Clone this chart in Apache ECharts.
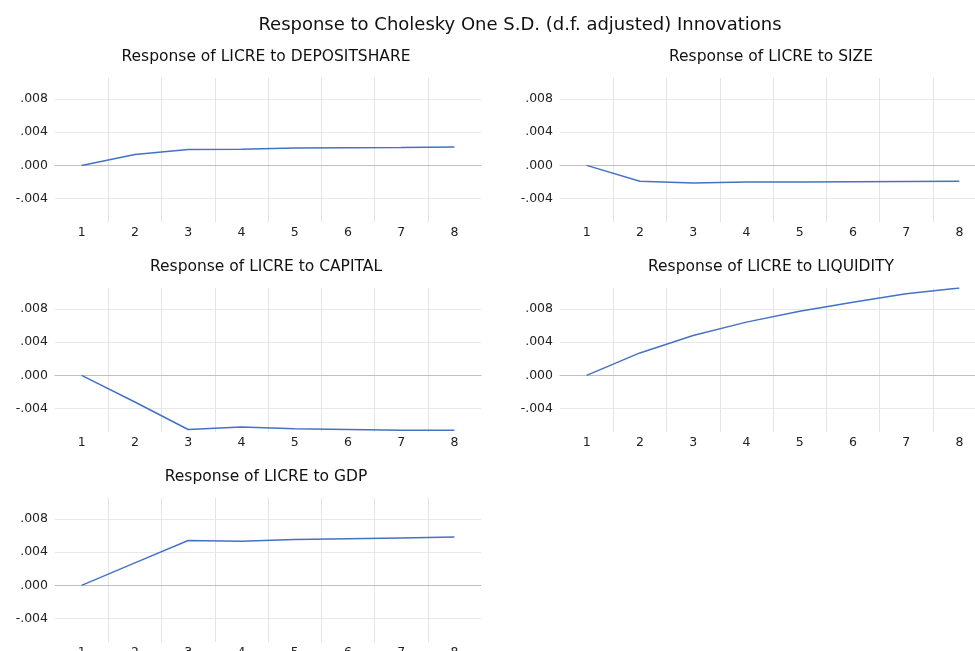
<!DOCTYPE html>
<html><head><meta charset="utf-8">
<script src="https://cdn.jsdelivr.net/npm/echarts@6/dist/echarts.min.js"></script>
<style>html,body{margin:0;padding:0;background:#fff}#c{width:975px;height:651px}</style>
</head><body><div id="c"></div>
<script>
var periods = ['1','2','3','4','5','6','7','8'];
var yTicks = [-0.004, 0, 0.004, 0.008];
var mainTitle = 'Response to Cholesky One S.D. (d.f. adjusted) Innovations';
var panelTitles = ['Response of LICRE to DEPOSITSHARE','Response of LICRE to SIZE','Response of LICRE to CAPITAL','Response of LICRE to LIQUIDITY','Response of LICRE to GDP'];
var depositshare = [0, 0.0013, 0.0019, 0.00195, 0.0021, 0.00212, 0.00215, 0.0022];
var size = [0, -0.0019, -0.0021, -0.0020, -0.0020, -0.00195, -0.00192, -0.0019];
var capital = [0, -0.0032, -0.0065, -0.0062, -0.0064, -0.0065, -0.0066, -0.0066];
var liquidity = [0, 0.0027, 0.0048, 0.0064, 0.0077, 0.0088, 0.0098, 0.0105];
var gdp = [0, 0.0027, 0.0054, 0.0053, 0.0055, 0.0056, 0.0057, 0.0058];
var seriesData = [depositshare, size, capital, liquidity, gdp];

var FONT = 'DejaVu Sans';
var pos = [[55,78],[560,78],[55,288],[560,288],[55,498]];
var W = 426, H = 144;
var grids=[], xAxes=[], yAxes=[], series=[], titles=[];
titles.push({text: mainTitle, left: 515, top: 11, textAlign:'center', textStyle:{fontFamily:FONT, fontSize:18, fontWeight:'normal', color:'#111'}});
function fmt(v){ if (Math.abs(v)<1e-12) return '.000'; var s=v.toFixed(3); return s.replace('0.','.'); }
for (var i=0;i<5;i++){
  var p=pos[i];
  grids.push({left:p[0], top:p[1], width:W, height:H, outerBoundsMode:'none', containLabel:false});
  titles.push({text: panelTitles[i], left: p[0]+W/2-7, top: p[1]-34, textAlign:'center', textStyle:{fontFamily:FONT, fontSize:15.5, fontWeight:'normal', color:'#111'}});
  xAxes.push({type:'category', gridIndex:i, data:periods, boundaryGap:true,
    axisLine:{onZero:true, lineStyle:{color:'#c0c0c0', width:1}}, axisTick:{show:false},
    axisLabel:{fontFamily:FONT, fontSize:12.5, color:'#222', margin:4, verticalAlign:'top'},
    splitLine:{show:true, showMinLine:false, showMaxLine:false, lineStyle:{color:'#e4e4e4', width:1}}});
  yAxes.push({type:'value', gridIndex:i, min:-0.0068, max:0.0105,
    axisLine:{show:false}, axisTick:{show:false, customValues:yTicks},
    axisLabel:{customValues:yTicks, formatter:fmt, fontFamily:FONT, fontSize:12.5, color:'#222', margin:7},
    splitLine:{show:true, lineStyle:{color:'#e8e8e8', width:1}}});
  series.push({type:'line', xAxisIndex:i, yAxisIndex:i, data:seriesData[i], showSymbol:false, symbol:'none',
    lineStyle:{color:'#4472c4', width:1.5}, itemStyle:{color:'#4472c4'}, animation:false, z:5});
}
var chart = echarts.init(document.getElementById('c'), null, {renderer:'canvas'});
chart.setOption({animation:false, title:titles, grid:grids, xAxis:xAxes, yAxis:yAxes, series:series});
</script></body></html>
